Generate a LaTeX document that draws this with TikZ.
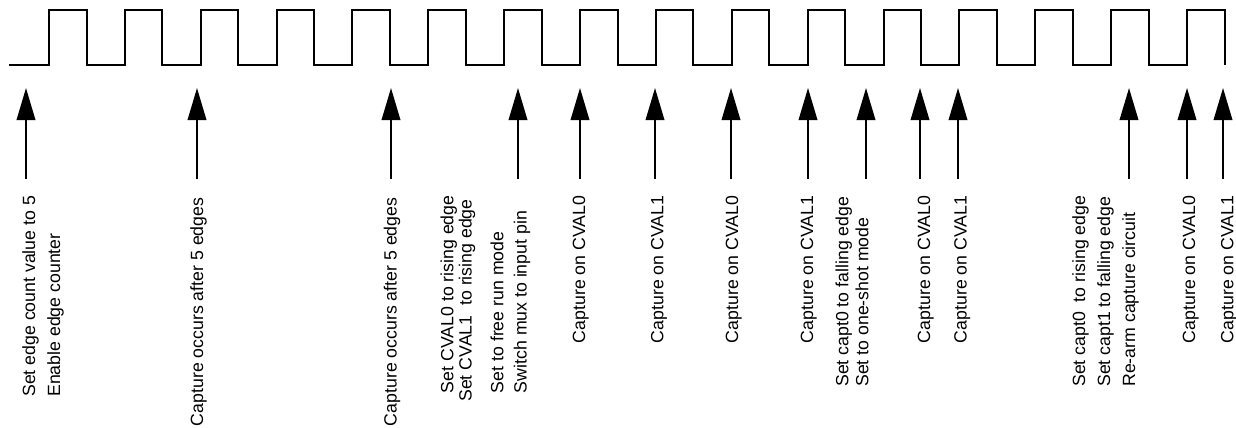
\documentclass[tikz,border=0pt]{standalone}
\usepackage{fontspec}
\setmainfont{Liberation Sans}
\usetikzlibrary{arrows.meta}
\tikzset{
  wave/.style={line width=2pt, line join=miter},
  evarrow/.style={line width=2pt, -{Triangle[length=32pt,width=18.5pt]}},
  lbl/.style={rotate=90, anchor=base west, inner sep=0pt, outer sep=0pt,
    font=\fontsize{17.7pt}{20pt}\selectfont}
}
\begin{document}
\begin{tikzpicture}[x=1pt,y=-1pt]
\useasboundingbox (0,0) rectangle (1236,428);
% waveform
\draw[wave] (9,65) foreach \k in {0,...,15} {
  -- ({49+75.87*\k},65) -- ({49+75.87*\k},10)
  -- ({86.5+75.87*\k},10) -- ({86.5+75.87*\k},65) };
% arrows
\foreach \n/\x in {a1/26, a2/197, a3/391, a4/518, a5/580, a6/655, a7/731,
  a8/808, a9/866, a10/920, a11/958, a12/1129, a13/1187, a14/1223} {
  \coordinate (\n s) at (\x,178.5);
  \coordinate (\n e) at (\x,88);
  \draw[evarrow] (\n s) -- (\n e);
}
% labels
\node[lbl] (t1a) at (35,396.7) {Set edge count value to 5};
\node[lbl] (t1b) at (60,396.7) {Enable edge counter};
\node[lbl] (t2) at (203,426) {Capture occurs after 5 edges};
\node[lbl] (t3) at (396.7,426) {Capture occurs after 5 edges};
\node[lbl] (t4a) at (453.3,393) {Set CVAL0 to rising edge};
\node[lbl] (t4b) at (471.7,401.7) {Set CVAL1\ \ to rising edge};
\node[lbl] (t4c) at (503.3,393) {Set to free run mode};
\node[lbl] (t4d) at (526.7,393) {Switch mux to input pin};
\node[lbl] (t5) at (585,343) {Capture on CVAL0};
\node[lbl] (t6) at (663.3,343) {Capture on CVAL1};
\node[lbl] (t7) at (738,343) {Capture on CVAL0};
\node[lbl] (t8) at (813,343) {Capture on CVAL1};
\node[lbl] (t9a) at (848.3,386.7) {Set capt0 to falling edge};
\node[lbl] (t9b) at (868.3,386.7) {Set to one-shot mode};
\node[lbl] (t10) at (930,343) {Capture on CVAL0};
\node[lbl] (t11) at (966.7,343) {Capture on CVAL1};
\node[lbl] (t12a) at (1085,386.7) {Set capt0\ \ to rising edge};
\node[lbl] (t12b) at (1110,386.7) {Set capt1 to falling edge};
\node[lbl] (t12c) at (1135,386.7) {Re-arm capture circuit};
\node[lbl] (t13) at (1195,343) {Capture on CVAL0};
\node[lbl] (t14) at (1233.3,343) {Capture on CVAL1};
\end{tikzpicture}
\end{document}
